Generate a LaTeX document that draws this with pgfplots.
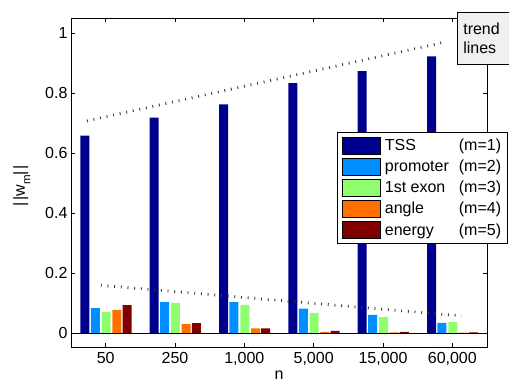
\documentclass[border=0pt]{standalone}
\usepackage{fontspec}
\setmainfont{Liberation Sans}
\usepackage{pgfplots}
\pgfplotsset{compat=1.18}
\definecolor{cTSS}{RGB}{0,0,143}
\definecolor{cProm}{RGB}{0,143,255}
\definecolor{cExon}{RGB}{143,255,112}
\definecolor{cAngle}{RGB}{255,112,0}
\definecolor{cEnergy}{RGB}{128,0,0}
\definecolor{boxgray}{RGB}{240,240,240}
\newcommand{\fs}{\fontsize{16pt}{19pt}\selectfont}
\newcommand{\legtxt}[2]{\hspace*{2.5pt}\makebox[74pt][l]{#1}(m=#2)}
\begin{document}
\begin{tikzpicture}
\begin{axis}[
  scale only axis, width=416pt, height=329pt,
  xmin=0.5, xmax=6.5, ymin=-0.0467, ymax=1.05,
  xtick={1,2,3,4,5,6},
  xticklabels={50,250,{1,000},{5,000},{15,000},{60,000}},
  ytick={0,0.2,0.4,0.6,0.8,1},
  yticklabels={0,0.2,0.4,0.6,0.8,1},
  tick align=inside, major tick length=4pt,
  axis line style={line width=0.8pt},
  tick style={black, line width=0.6pt},
  ticklabel style={font=\fs},
  xticklabel style={yshift=-2pt},
  xlabel={n},
  ylabel={|\kern2pt|w\raisebox{-5.5pt}{\fontsize{11.5pt}{12pt}\selectfont m}|\kern2pt|},
  label style={font=\fs},
  xlabel style={at={(axis description cs:0.5,-0.085)}, anchor=center},
  ylabel style={at={(axis description cs:-0.118,0.49)}, anchor=center},
  legend style={at={(rel axis cs:0.6394,0.6535)}, anchor=north west, font=\fs,
    draw=black, line width=0.6pt, fill=white, row sep=3.5pt,
    inner xsep=5pt, inner ysep=4.5pt,
    nodes={inner xsep=1.5pt, inner ysep=1pt}},
  legend cell align=left,
]
\addplot[ybar, bar width=9pt, bar shift=-20.8pt, fill=cTSS, draw=none,
  legend image code/.code={\draw[fill=cTSS,draw=black,line width=0.6pt] (0pt,-8.5pt) rectangle (38pt,8.5pt);}]
  coordinates {(1,0.658) (2,0.718) (3,0.762) (4,0.833) (5,0.873) (6,0.922)};
\addlegendentry{\legtxt{TSS}{1}}
\addplot[ybar, bar width=9pt, bar shift=-10.4pt, fill=cProm, draw=none,
  legend image code/.code={\draw[fill=cProm,draw=black,line width=0.6pt] (0pt,-8.5pt) rectangle (38pt,8.5pt);}]
  coordinates {(1,0.083) (2,0.103) (3,0.103) (4,0.081) (5,0.060) (6,0.034)};
\addlegendentry{\legtxt{promoter}{2}}
\addplot[ybar, bar width=9pt, bar shift=0.5pt, fill=cExon, draw=none,
  legend image code/.code={\draw[fill=cExon,draw=black,line width=0.6pt] (0pt,-8.5pt) rectangle (38pt,8.5pt);}]
  coordinates {(1,0.071) (2,0.100) (3,0.094) (4,0.067) (5,0.053) (6,0.037)};
\addlegendentry{\legtxt{1st exon}{3}}
\addplot[ybar, bar width=9pt, bar shift=11.2pt, fill=cAngle, draw=none,
  legend image code/.code={\draw[fill=cAngle,draw=black,line width=0.6pt] (0pt,-8.5pt) rectangle (38pt,8.5pt);}]
  coordinates {(1,0.077) (2,0.030) (3,0.015) (4,0.004) (5,0.002) (6,0.001)};
\addlegendentry{\legtxt{angle}{4}}
\addplot[ybar, bar width=9pt, bar shift=21.4pt, fill=cEnergy, draw=none,
  legend image code/.code={\draw[fill=cEnergy,draw=black,line width=0.6pt] (0pt,-8.5pt) rectangle (38pt,8.5pt);}]
  coordinates {(1,0.093) (2,0.033) (3,0.015) (4,0.007) (5,0.004) (6,0.002)};
\addlegendentry{\legtxt{energy}{5}}
\addplot[black, line width=0.6pt, forget plot] coordinates {(0.5,0) (6.5,0)};
\addplot[gray!45!black, line width=2.8pt, dash pattern=on 0.9pt off 5.8pt, forget plot]
  coordinates {(0.73,0.707) (5.9,0.970)};
\addplot[gray!45!black, line width=2.8pt, dash pattern=on 0.9pt off 5.8pt, forget plot]
  coordinates {(0.93,0.159) (6.13,0.057)};
\coordinate (tb) at (rel axis cs:0.9279,1.0182);
\coordinate (sw) at (rel axis cs:0,0);
\end{axis}
\node[draw=black, fill=boxgray, line width=0.6pt, align=left, font=\fontsize{16pt}{19pt}\selectfont,
  text width=48pt, minimum height=52pt, inner xsep=6pt, inner ysep=3pt, anchor=north west] at (tb) {trend\\lines};
\pgfresetboundingbox
\path (sw) ++(-71pt,-38pt) rectangle ++(509pt,385pt);
\end{tikzpicture}
\end{document}
